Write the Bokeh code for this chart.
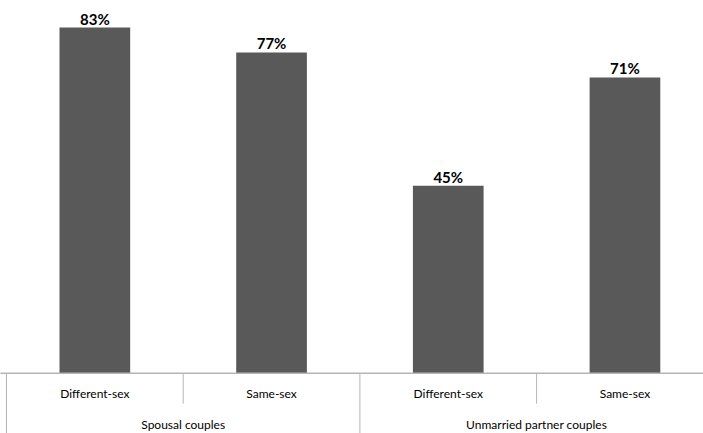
from bokeh.plotting import figure
from bokeh.models import Range1d, ColumnDataSource
from bokeh.core.properties import value
from bokeh.embed import file_html
from bokeh.resources import INLINE

# ---- data ----
subcategories = ["Different-sex", "Same-sex", "Different-sex", "Same-sex"]
groups = ["Spousal couples", "Unmarried partner couples"]
group_sizes = [2, 2]
values = [83, 77, 45, 71]
value_labels = [f"{v}%" for v in values]

# ---- layout constants ----
W, H = 703, 433
cat_px = 176.7        # pixel width of one category
left_px = 6.0         # x of the left edge of the first category
unit_px = 4.165       # pixels per percentage point
base_px = 372.7       # y of the baseline inside the figure
FONT = "Lato"

xs = list(range(len(values)))
x_start = -0.5 - left_px / cat_px
x_end = x_start + W / cat_px
y_end = base_px / unit_px
y_start = -(H - base_px) / unit_px

p = figure(width=W, height=H, output_backend="svg", toolbar_location=None,
           x_range=Range1d(x_start, x_end), y_range=Range1d(y_start, y_end),
           min_border=0)
p.xaxis.visible = False
p.yaxis.visible = False
p.grid.visible = False
p.outline_line_color = None
p.background_fill_color = "white"
p.border_fill_color = "white"

src = ColumnDataSource(dict(x=xs, top=values, lab=value_labels, sub=subcategories))

p.vbar(x="x", top="top", width=0.4, bottom=0, source=src,
       fill_color="#595959", line_color=None)

# value labels
p.text(x="x", y="top", text="lab", source=src, text_align="center",
       text_baseline="alphabetic", y_offset=-9, text_font=value(FONT),
       text_font_style="bold", text_font_size="15px", text_color="#000000")

axis_col = "#b5b5b5"
# baseline axis line
p.segment(x0=[x_start - 1], y0=[0], x1=[len(values) + 1], y1=[0],
          line_color=axis_col, line_width=1.5)

# separators
row1_y = -20.5 / unit_px
row2_y = -51.5 / unit_px
inner_bottom = -30.5 / unit_px
bounds = [i - 0.5 for i in range(len(values) + 1)]
group_bounds = [-0.5]
acc = -0.5
for g in group_sizes:
    acc += g
    group_bounds.append(acc)
short = [b for b in bounds if b not in group_bounds]
p.segment(x0=short, y0=[0] * len(short), x1=short, y1=[inner_bottom] * len(short),
          line_color=axis_col, line_width=1)
p.segment(x0=group_bounds, y0=[0] * len(group_bounds), x1=group_bounds,
          y1=[y_start - 1] * len(group_bounds), line_color=axis_col, line_width=1)

# subcategory labels
p.text(x="x", y=row1_y, text="sub", source=src, text_align="center",
       text_baseline="middle", text_font=value(FONT), text_font_size="12px",
       text_color="#000000")

# group labels
gx = []
start = 0
for g in group_sizes:
    gx.append(start + (g - 1) / 2)
    start += g
p.text(x=gx, y=[row2_y] * len(gx), text=groups, text_align="center",
       text_baseline="middle", text_font=value(FONT), text_font_size="12px",
       text_color="#000000")

open("out.html", "w").write(file_html(p, INLINE))
